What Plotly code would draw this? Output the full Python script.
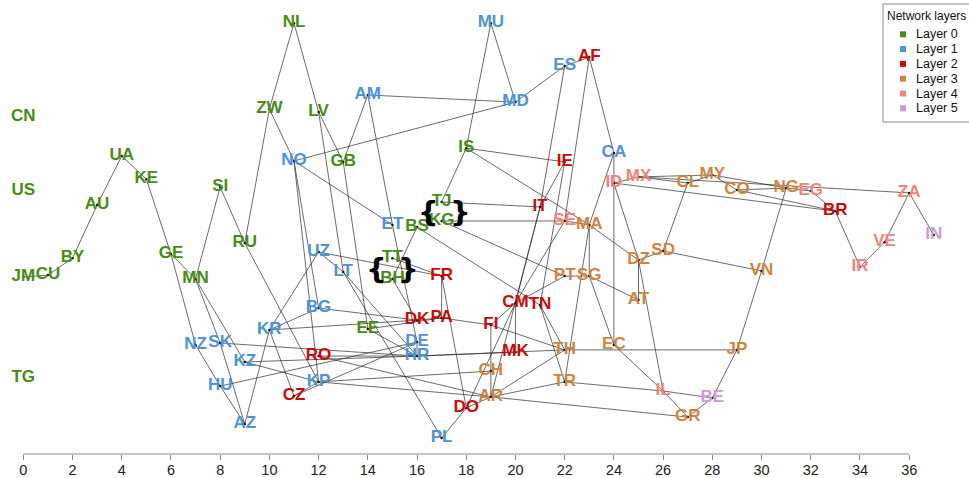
import plotly.graph_objects as go

# ---- layers -------------------------------------------------------------
layer_names = ["Layer 0", "Layer 1", "Layer 2", "Layer 3", "Layer 4", "Layer 5"]
layer_colors = ["#4A8B18", "#4D93D9", "#CC0A0A", "#D2843F", "#F7827A", "#CC99DD"]

# ---- nodes: code, position, layer ---------------------------------------
codes = ["CN", "US", "JM", "TG", "CU", "BY", "AU", "UA", "KE", "GE", "MN", "SI",
         "RU", "ZW", "NL", "LV", "GB", "EE", "BS", "TT", "BH", "TJ", "KG", "IS",
         "AM", "MU", "MD", "ES", "NO", "CA", "ET", "UZ", "LT", "BG", "KR", "NZ",
         "SK", "KZ", "HU", "AZ", "KP", "DE", "HR", "PL",
         "AF", "IE", "IT", "FR", "CM", "TN", "DK", "PA", "FI", "MK", "RO", "CZ",
         "DO", "BR",
         "MA", "PT", "SG", "SD", "DZ", "AT", "EC", "TH", "TR", "CH", "AR", "GR",
         "CL", "MY", "CO", "NG", "VN", "JP",
         "SE", "ID", "MX", "EG", "ZA", "VE", "IR", "IL",
         "IN", "BE"]
node_x = [0, 0, 0, 0, 1, 2, 3, 4, 5, 6, 7, 8,
          9, 10, 11, 12, 13, 14, 16, 15, 15, 17, 17, 18,
          14, 19, 20, 22, 11, 24, 15, 12, 13, 12, 10, 7,
          8, 9, 8, 9, 12, 16, 16, 17,
          23, 22, 21, 17, 20, 21, 16, 17, 19, 20, 12, 11,
          18, 33,
          23, 22, 23, 26, 25, 25, 24, 22, 22, 19, 19, 27,
          27, 28, 29, 31, 30, 29,
          22, 24, 25, 32, 36, 35, 34, 26,
          37, 28]
node_y = [13.69, 10.69, 7.19, 3.09, 7.27, 7.96, 10.12, 12.11, 11.17, 8.13, 7.11, 10.85,
          8.57, 14.02, 17.51, 13.90, 11.87, 5.08, 9.22, 7.96, 7.11, 10.24, 9.47, 12.43,
          14.59, 17.51, 14.30, 15.77, 11.91, 12.23, 9.31, 8.21, 7.40, 5.93, 5.04, 4.43,
          4.51, 3.74, 2.76, 1.22, 2.93, 4.55, 3.98, 0.65,
          16.13, 11.87, 10.04, 7.23, 6.14, 6.05, 5.44, 5.53, 5.24, 4.14, 3.98, 2.36,
          1.87, 9.87,
          9.31, 7.23, 7.23, 8.25, 7.88, 6.26, 4.43, 4.23, 2.93, 3.37, 2.32, 1.50,
          11.01, 11.34, 10.73, 10.81, 7.44, 4.23,
          9.47, 11.01, 11.26, 10.69, 10.61, 8.61, 7.60, 2.56,
          8.90, 2.28]
node_layer = [0] * 24 + [1] * 20 + [2] * 14 + [3] * 18 + [4] * 8 + [5] * 2

# ---- links --------------------------------------------------------------
links = [
    ("UA", "AU"), ("UA", "KE"), ("AU", "BY"), ("BY", "CU"), ("CU", "JM"),
    ("KE", "GE"), ("GE", "MN"), ("GE", "NZ"), ("SI", "RU"), ("SI", "MN"),
    ("MN", "SK"), ("MN", "KZ"), ("NZ", "HU"), ("SK", "AZ"), ("HU", "AZ"),
    ("SK", "HR"), ("HU", "DE"), ("KZ", "HR"), ("KZ", "KP"),
    ("NL", "ZW"), ("NL", "LV"), ("ZW", "NO"), ("ZW", "RU"), ("RU", "KP"),
    ("LV", "GB"), ("LV", "LT"), ("AM", "GB"), ("AM", "MD"), ("AM", "ET"),
    ("NO", "MD"), ("NO", "ET"), ("NO", "BG"), ("NO", "KP"),
    ("GB", "EE"), ("UZ", "KR"), ("UZ", "LT"), ("UZ", "FR"), ("LT", "HR"),
    ("LT", "PL"), ("KR", "CZ"), ("KR", "AZ"), ("KR", "DK"), ("KR", "BG"),
    ("BG", "DK"), ("EE", "HR"), ("EE", "PA"), ("ET", "DE"), ("BS", "BH"),
    ("BS", "TN"), ("BH", "DK"), ("TT", "FR"), ("RO", "HR"), ("RO", "AR"),
    ("CZ", "DE"), ("CZ", "KP"), ("KP", "AR"), ("KP", "CH"), ("DK", "PA"),
    ("PA", "FI"), ("PA", "FR"), ("FR", "DO"), ("DE", "HR"), ("HR", "MK"),
    ("HR", "TH"), ("PL", "DO"), ("DO", "AR"), ("CH", "FI"), ("CH", "AR"),
    ("MU", "MD"), ("MU", "IS"), ("MD", "ES"), ("ES", "AF"), ("ES", "IT"),
    ("AF", "SE"), ("AF", "CA"), ("IS", "TJ"), ("IS", "IE"), ("IS", "MA"),
    ("TJ", "IT"), ("KG", "SE"), ("KG", "PT"), ("IE", "IT"), ("IE", "TN"),
    ("IT", "CM"), ("IT", "AR"), ("SE", "MA"), ("SE", "CM"), ("CA", "MA"),
    ("CA", "EC"), ("MA", "DZ"), ("MA", "SG"), ("ID", "DZ"), ("ID", "MX"),
    ("MX", "CL"), ("MX", "MY"), ("CL", "MY"), ("CL", "SD"), ("MY", "CO"),
    ("MY", "NG"), ("CO", "NG"), ("CO", "BR"), ("NG", "EG"), ("NG", "VN"),
    ("EG", "BR"), ("MX", "ZA"), ("ID", "BR"), ("BR", "IR"), ("IR", "VE"),
    ("VE", "ZA"), ("ZA", "IN"), ("SD", "DZ"), ("SD", "VN"), ("DZ", "AT"),
    ("DZ", "IL"), ("SG", "AT"), ("SG", "EC"), ("PT", "SG"), ("PT", "CM"),
    ("EC", "IL"), ("TH", "JP"), ("TH", "FI"), ("TH", "AR"), ("TR", "AR"),
    ("TR", "IL"), ("TR", "MA"), ("IL", "BE"), ("AR", "GR"), ("IL", "GR"),
    ("GR", "BE"), ("BE", "JP"), ("JP", "VN"), ("CM", "FI"), ("CM", "MK"),
    ("TN", "TR"), ("TN", "TH"), ("CM", "DO"),
]

# pairs of nodes sharing a slot, marked with braces (left / right offsets)
brace_pairs = [("TJ", "KG", -0.55, 0.76), ("TT", "BH", -0.66, 0.66)]

x_ticks = list(range(0, 37, 2))

# ---- figure -------------------------------------------------------------
W, H = 969, 478
M_B = 24
X_RANGE = [-0.947, 38.43]
Y_RANGE = [0, 18.45]
pos = {c: (x, y) for c, x, y in zip(codes, node_x, node_y)}

fig = go.Figure()

ex, ey = [], []
for a, b in links:
    ex += [pos[a][0], pos[b][0], None]
    ey += [pos[a][1], pos[b][1], None]
fig.add_trace(go.Scatter(x=ex, y=ey, mode="lines",
                         line=dict(color="#2b2b2b", width=0.7),
                         hoverinfo="skip", showlegend=False))

linked = sorted({c for pair in links for c in pair})
fig.add_trace(go.Scatter(x=[pos[c][0] for c in linked], y=[pos[c][1] for c in linked],
                         mode="markers", marker=dict(color="#111", size=2.5),
                         hoverinfo="skip", showlegend=False))

for li, (name, col) in enumerate(zip(layer_names, layer_colors)):
    idx = [i for i, l in enumerate(node_layer) if l == li]
    fig.add_trace(go.Scatter(
        x=[node_x[i] for i in idx], y=[node_y[i] for i in idx],
        text=[codes[i] for i in idx], mode="text", name=name,
        textposition="middle center",
        textfont=dict(family="Liberation Sans, Arial, sans-serif", size=17,
                      color=col, weight="bold"),
        showlegend=False))

annotations = []
for a, b, dl, dr in brace_pairs:
    xc = (pos[a][0] + pos[b][0]) / 2
    yc = (pos[a][1] + pos[b][1]) / 2
    for ch, dx in (("{", dl), ("}", dr)):
        annotations.append(dict(x=xc + dx, y=yc, xref="x", yref="y", text=ch,
                                showarrow=False, xanchor="center", yanchor="middle",
                                font=dict(family="DejaVu Sans, sans-serif", size=29,
                                          color="#000", weight="bold")))

# legend box in pixel terms
def px(xp):
    return xp / W


def py(yp):
    return (H - M_B - yp) / (H - M_B)


shapes = [
    dict(type="line", xref="x", yref="paper", x0=x_ticks[0], x1=x_ticks[-1],
         y0=0, y1=0, line=dict(color="#8a8a8a", width=1)),
    dict(type="rect", xref="paper", yref="paper", x0=px(883), x1=px(974),
         y0=py(122), y1=py(4), line=dict(color="#8a8a8a", width=1),
         fillcolor="white", layer="above"),
]
annotations.append(dict(x=px(885), y=py(16), xref="paper", yref="paper",
                        text="Network layers", showarrow=False,
                        xanchor="left", yanchor="middle",
                        font=dict(family="Liberation Sans, Arial, sans-serif",
                                  size=12, color="#111")))
for k, (name, col) in enumerate(zip(layer_names, layer_colors)):
    yc = 34.3 + k * 14.8
    shapes.append(dict(type="rect", xref="paper", yref="paper",
                       x0=px(900), x1=px(906), y0=py(yc + 3), y1=py(yc - 3),
                       line=dict(width=0), fillcolor=col, layer="above"))
    annotations.append(dict(x=px(914), y=py(yc), xref="paper", yref="paper",
                            text=name, showarrow=False, xanchor="left",
                            yanchor="middle",
                            font=dict(family="Liberation Sans, Arial, sans-serif",
                                      size=12.5, color="#111")))

fig.update_layout(
    width=W, height=H,
    margin=dict(l=0, r=0, t=0, b=M_B),
    paper_bgcolor="white", plot_bgcolor="white",
    showlegend=False,
    xaxis=dict(range=X_RANGE, tickvals=x_ticks, ticks="outside", ticklen=5,
               tickcolor="#8a8a8a", showgrid=False, zeroline=False, showline=False,
               automargin=False, ticklabelstandoff=-2,
               tickfont=dict(family="Liberation Sans, Arial, sans-serif", size=14.5,
                             color="#222")),
    yaxis=dict(range=Y_RANGE, visible=False, fixedrange=True),
    shapes=shapes, annotations=annotations,
)

fig.write_html("out.html")
